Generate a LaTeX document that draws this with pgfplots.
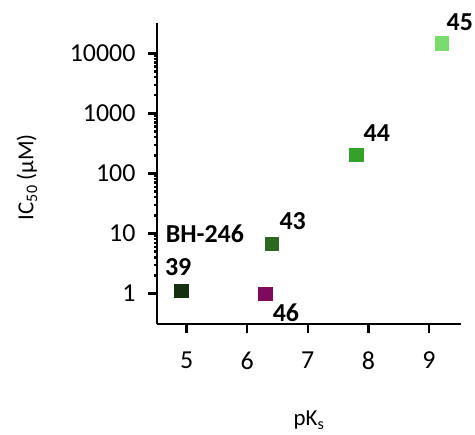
\documentclass[border=0pt]{standalone}
\usepackage{pgfplots}
\pgfplotsset{compat=1.18}
\usepackage{fontspec}
\setmainfont{Carlito}
\definecolor{c39}{HTML}{15300F}
\definecolor{c43}{HTML}{2B6A20}
\definecolor{c44}{HTML}{35A02A}
\definecolor{c45}{HTML}{7ADB6E}
\definecolor{c46}{HTML}{7D0A5C}
\begin{document}
\begin{tikzpicture}
\begin{axis}[
  scale only axis,
  width=304bp, height=301bp,
  xmin=4.51, xmax=9.53,
  ymode=log, ymin=0.31, ymax=32000,
  axis lines*=left,
  axis line style={line width=2.6bp},
  tick style={line width=2.4bp, black},
  tick align=outside,
  major tick length=9bp,
  minor tick num=0,
  xtick={5,6,7,8,9},
  xticklabels={5,6,7,8,9},
  ytick={1,10,100,1000,10000},
  yticklabels={1,10,100,1000,10000},
  /pgf/number format/assume math mode=true,
  tick label style={font=\fontsize{26}{29}\selectfont},
  yticklabel style={xshift=-9bp},
  xticklabel style={yshift=-15bp},
  xlabel={pK\textsubscript{s}},
  ylabel={IC\textsubscript{50} (μM)},
  label style={font=\fontsize{23}{26}\selectfont},
  xlabel style={at={(axis description cs:0.5,-0.32)}, anchor=center},
  ylabel style={at={(axis description cs:-0.428,0.488)}, anchor=center},
  clip=false,
  every axis plot/.append style={only marks, mark=square*, mark size=6.6bp},
]
\addplot[c39, mark options={fill=c39, draw=c39, line width=0.6bp, rounded corners=1.5bp}] coordinates {(4.91,1.1)};
\addplot[c46, mark options={fill=c46, draw=c46, line width=0.6bp, rounded corners=1.5bp}] coordinates {(6.30,1.0)};
\addplot[c43, mark options={fill=c43, draw=c43, line width=0.6bp, rounded corners=1.5bp}] coordinates {(6.41,6.7)};
\addplot[c44, mark options={fill=c44, draw=c44, line width=0.6bp, rounded corners=1.5bp}] coordinates {(7.80,207)};
\addplot[c45, mark options={fill=c45, draw=c45, line width=0.6bp, rounded corners=1.5bp}] coordinates {(9.21,14700)};
\begin{scope}[every node/.style={font=\fontsize{26}{29}\selectfont\bfseries, anchor=center, inner sep=0pt}]
\node at (axis cs:9.51,33270) {45};
\node at (axis cs:8.14,470) {44};
\node at (axis cs:6.75,16.0) {43};
\node at (axis cs:5.30,9.73) {BH-246};
\node at (axis cs:4.86,2.74) {39};
\node at (axis cs:6.64,0.47) {46};
\end{scope}
\end{axis}
\pgfresetboundingbox
\useasboundingbox (-157bp,-111bp) rectangle (318bp,324bp);
\end{tikzpicture}
\end{document}
